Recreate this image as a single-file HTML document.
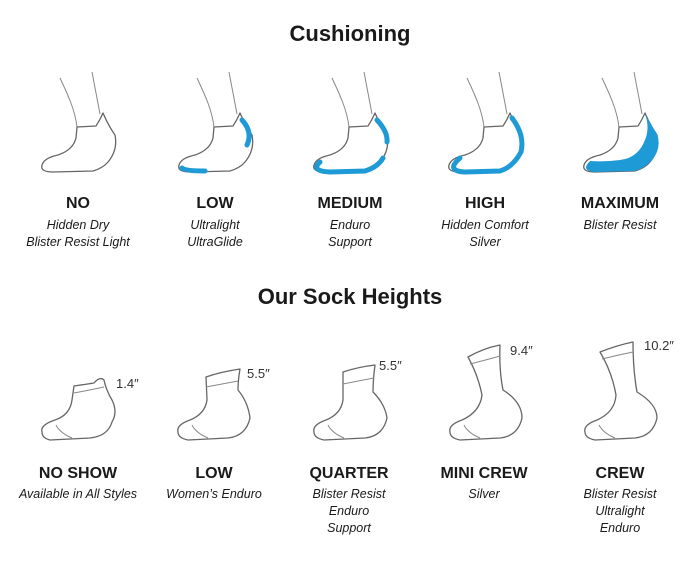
<!DOCTYPE html>
<html><head><meta charset="utf-8"><style>
body{margin:0;background:#fff;}
svg{display:block}
text{font-family:"Liberation Sans",sans-serif;fill:#1a1a1a}
.t{font-size:22px;font-weight:bold;text-anchor:middle}
.l{font-size:16px;font-weight:bold;text-anchor:middle}
.s{font-size:12.5px;font-style:italic;text-anchor:middle}
.n{font-size:13px;fill:#333}
.o{fill:#fff;stroke:#666;stroke-width:1.3;stroke-linejoin:round}
.g{fill:none;stroke:#888;stroke-width:1}
.b{fill:none;stroke:#1e9ad6;stroke-width:5;stroke-linecap:round}
</style></head><body>
<svg width="700" height="570" viewBox="0 0 700 570">
<text class="t" x="350" y="41">Cushioning</text>
<defs>
<g id="ts">
<path class="g" d="M-18,8 C-10,25 -3,40 -1,57"/>
<path class="g" d="M14,2 L22,44"/>
<path class="o" d="M-1,57 L18,56 Q22,50 25,43 Q30,55 37,65 Q40,80 30,92 Q25,98 15,101 L-25,102 Q-38,102 -36,95 Q-34,88 -20,85 Q-5,80 -2,68 Z"/>
</g>
</defs>
<g transform="translate(78,70)"><use href="#ts"/></g>
<g transform="translate(215,70)"><use href="#ts"/>
<path class="b" d="M-33,98 Q-30,101 -10,101"/><path class="b" d="M27,50 Q38,62 32,75"/></g>
<g transform="translate(350,70)"><use href="#ts"/>
<path class="b" d="M-30,92 Q-40,101 -20,102 L15,101 Q28,97 33,88"/><path class="b" d="M27,50 Q38,62 37,72"/></g>
<g transform="translate(485,70)"><use href="#ts"/>
<path class="b" d="M-25,88 Q-40,101 -20,102 L15,101 Q28,97 36,82 Q40,65 27,48"/></g>
<g transform="translate(620,70)"><use href="#ts"/>
<path d="M-30,91 Q-40,101 -25,102 L15,101 Q25,98 32,90 Q42,78 37,64 Q31,55 25,44 Q30,58 25,70 Q18,88 0,90 Q-15,92 -30,91Z" fill="#1e9ad6"/></g>

<text class="l" x="78" y="208">NO</text><text class="s" x="78" y="229">Hidden Dry</text><text class="s" x="78" y="246">Blister Resist Light</text>
<text class="l" x="215" y="208">LOW</text><text class="s" x="215" y="229">Ultralight</text><text class="s" x="215" y="246">UltraGlide</text>
<text class="l" x="350" y="208">MEDIUM</text><text class="s" x="350" y="229">Enduro</text><text class="s" x="350" y="246">Support</text>
<text class="l" x="485" y="208">HIGH</text><text class="s" x="485" y="229">Hidden Comfort</text><text class="s" x="485" y="246">Silver</text>
<text class="l" x="620" y="208">MAXIMUM</text><text class="s" x="620" y="229">Blister Resist</text>

<text class="t" x="350" y="304">Our Sock Heights</text>

<path class="o" d="M42,432 Q40,425 55,420 Q70,415 72,400 L74,386 Q88,384 94,383 Q100,376 104,380 Q106,390 112,400 Q118,412 112,422 Q108,436 90,438 L50,440 Q42,438 42,432Z"/>
<path class="g" d="M74,393 Q90,390 104,387"/><path class="g" d="M56,425 Q60,433 72,438"/>
<text class="n" x="116" y="388">1.4″</text>
<path class="o" d="M178,432 Q176,425 190,420 Q205,414 207,400 L206,377 Q220,372 240,369 Q238,380 238,390 Q248,402 250,418 Q246,436 228,438 L188,440 Q178,438 178,432Z"/>
<path class="g" d="M206,387 Q222,384 238,381"/><path class="g" d="M192,425 Q196,433 208,438"/>
<text class="n" x="247" y="378">5.5″</text>
<path class="o" d="M314,432 Q312,425 326,420 Q341,414 343,400 L343,372 Q358,367 375,365 Q373,380 373,392 Q385,404 387,418 Q383,436 365,438 L324,440 Q314,438 314,432Z"/>
<path class="g" d="M343,384 Q358,381 374,378"/><path class="g" d="M328,425 Q332,433 344,438"/>
<text class="n" x="379" y="370">5.5″</text>
<path class="o" d="M450,432 Q448,425 462,420 Q480,412 482,395 Q478,375 468,357 Q484,348 500,345 Q499,370 503,390 Q522,402 522,418 Q518,436 500,438 L460,440 Q450,438 450,432Z"/>
<path class="g" d="M470,364 Q486,360 500,356"/><path class="g" d="M464,425 Q468,433 480,438"/>
<text class="n" x="510" y="355">9.4″</text>
<path class="o" d="M585,432 Q583,425 597,420 Q615,412 616,395 Q612,372 600,352 Q618,345 633,342 Q633,370 637,392 Q657,404 657,418 Q653,436 635,438 L595,440 Q585,438 585,432Z"/>
<path class="g" d="M602,359 Q618,355 633,352"/><path class="g" d="M599,425 Q603,433 615,438"/>
<text class="n" x="644" y="350">10.2″</text>

<text class="l" x="78" y="478">NO SHOW</text><text class="s" x="78" y="498">Available in All Styles</text>
<text class="l" x="214" y="478">LOW</text><text class="s" x="214" y="498">Women’s Enduro</text>
<text class="l" x="349" y="478">QUARTER</text><text class="s" x="349" y="498">Blister Resist</text><text class="s" x="349" y="515">Enduro</text><text class="s" x="349" y="532">Support</text>
<text class="l" x="484" y="478">MINI CREW</text><text class="s" x="484" y="498">Silver</text>
<text class="l" x="620" y="478">CREW</text><text class="s" x="620" y="498">Blister Resist</text><text class="s" x="620" y="515">Ultralight</text><text class="s" x="620" y="532">Enduro</text>
</svg>
</body></html>
